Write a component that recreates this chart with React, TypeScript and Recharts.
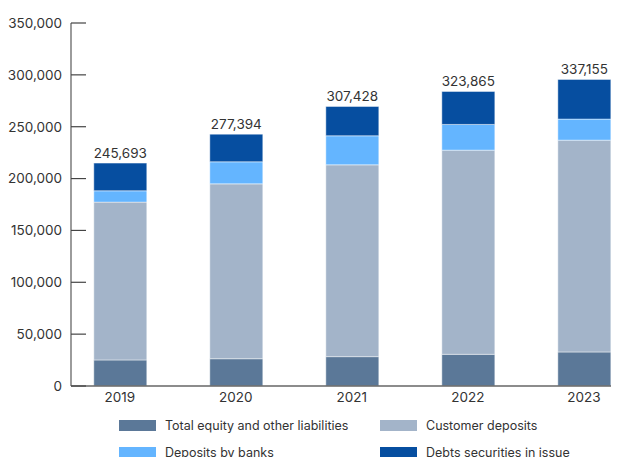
import React from "react";
import { BarChart, Bar, XAxis, YAxis, LabelList } from "recharts";

const years = ["2019", "2020", "2021", "2022", "2023"];
const equity = [25100, 26300, 28300, 30550, 32800];
const customerDeposits = [152200, 168600, 184950, 196850, 204250];
const bankDeposits = [10900, 21250, 28000, 24800, 20300];
const debtSecurities = [26700, 26700, 28300, 31800, 38250];
const totals = ["245,693", "277,394", "307,428", "323,865", "337,155"];
const yTicks = [0, 50000, 100000, 150000, 200000, 250000, 300000, 350000];

const series = [
  { key: "equity", name: "Total equity and other liabilities", color: "#5b7898" },
  { key: "customer", name: "Customer deposits", color: "#a3b4c9" },
  { key: "banks", name: "Deposits by banks", color: "#64b5ff" },
  { key: "debt", name: "Debts securities in issue", color: "#064ea0" },
];

const data = years.map((y, i) => ({
  idx: i,
  year: y,
  equity: equity[i],
  customer: customerDeposits[i],
  banks: bankDeposits[i],
  debt: debtSecurities[i],
  total: totals[i],
}));

const FONT = "Inter, 'Noto Sans', sans-serif";
const TICK_FS = 13.5;

const YTick = (props: any) => {
  const { x, y, payload } = props;
  return (
    <g>
      <line x1={x + 9} x2={x + 24} y1={y} y2={y} stroke="#444" strokeWidth={1.2} />
      <text x={x} y={y} dy="0.355em" textAnchor="end" fill="#333" fontSize={TICK_FS} fontFamily={FONT}>
        {Number(payload.value).toLocaleString("en-US")}
      </text>
    </g>
  );
};

const XTick = (props: any) => {
  const { x, y, payload } = props;
  return (
    <text x={x} y={y} dy="0.71em" textAnchor="middle" fill="#333" fontSize={TICK_FS} fontFamily={FONT}>
      {years[payload.value]}
    </text>
  );
};

export default function App() {
  return (
    <div style={{ position: "relative", width: 611, height: 449, fontFamily: FONT }}>
      <style>{`.recharts-surface { overflow: visible; }`}</style>
      <BarChart
        width={611}
        height={449}
        data={data}
        margin={{ top: 15, right: 0, bottom: 51, left: 0 }}
      >
        <XAxis
          dataKey="idx"
          type="number"
          domain={[-0.4207, 4.303]}
          allowDataOverflow
          ticks={[0, 1, 2, 3, 4]}
          interval={0}
          tickLine={false}
          tickSize={0}
          tickMargin={6}
          height={20}
          stroke="#666"
          strokeWidth={1.3}
          tick={<XTick />}
        />
        <YAxis
          type="number"
          domain={[0, 350000]}
          ticks={yTicks}
          interval={0}
          width={63}
          tickLine={false}
          tickSize={0}
          tickMargin={9}
          stroke="#666"
          strokeWidth={1.3}
          tick={<YTick />}
        />
        {series.map((s, i) => (
          <Bar
            key={s.key}
            dataKey={s.key}
            name={s.name}
            stackId="a"
            fill={s.color}
            barSize={53}
            stroke="#ffffff"
            strokeOpacity={0.45}
            strokeWidth={1}
            isAnimationActive={false}
          >
            {i === series.length - 1 && (
              <LabelList
                dataKey="total"
                position="top"
                offset={5}
                fill="#333"
                fontSize={TICK_FS}
                fontFamily={FONT}
              />
            )}
          </Bar>
        ))}
      </BarChart>
      <div
        style={{
          position: "absolute",
          left: 0,
          top: 0,
          width: 611,
          height: 449,
          pointerEvents: "none",
        }}
      >
        {series.map((s, i) => {
          const col = i % 2;
          const row = Math.floor(i / 2);
          return (
            <div
              key={s.key}
              style={{
                position: "absolute",
                left: col === 0 ? 111 : 372,
                top: row === 0 ? 408 : 435,
                display: "flex",
                alignItems: "center",
                height: 18,
              }}
            >
              <span
                style={{
                  display: "inline-block",
                  width: 37,
                  height: 11,
                  background: s.color,
                  marginRight: 9,
                }}
              />
              <span style={{ fontSize: 12.5, color: "#333", whiteSpace: "nowrap" }}>{s.name}</span>
            </div>
          );
        })}
      </div>
    </div>
  );
}
